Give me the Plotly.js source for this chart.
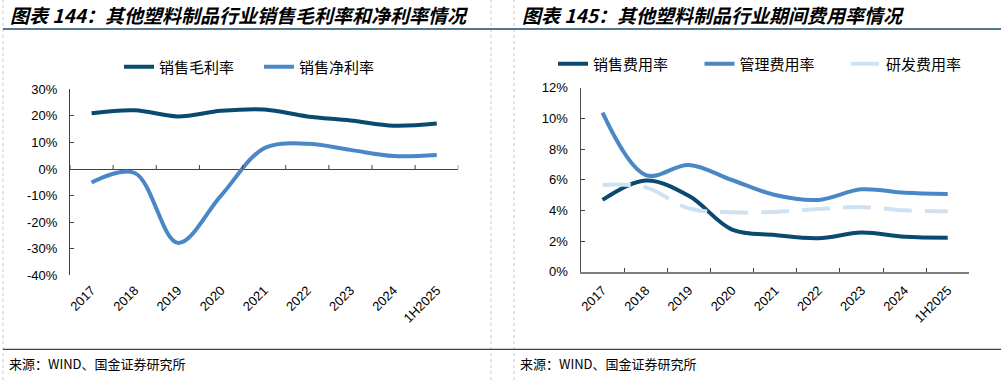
<!DOCTYPE html>
<html>
<head>
<meta charset="utf-8">
<script src="https://cdn.plot.ly/plotly-3.0.1.min.js"></script>
<style>
html,body{margin:0;padding:0;background:#fff;}
#chart{width:1001px;height:380px;}
</style>
</head>
<body>
<div id="chart"></div>
<script>
// ---- data ----
var categories = ['2017','2018','2019','2020','2021','2022','2023','2024','1H2025'];
var grossMargin = [21.0, 22.1, 19.8, 21.9, 22.4, 19.8, 18.3, 16.3, 17.1];      // 销售毛利率 (%)
var netMargin   = [-5.1, -1.5, -27.8, -10.0, 7.8, 9.5, 7.2, 4.9, 5.3];        // 销售净利率 (%)
var sellingExp  = [4.68, 5.95, 4.95, 2.75, 2.39, 2.18, 2.55, 2.28, 2.22];     // 销售费用率 (%)
var adminExp    = [10.37, 6.3, 6.96, 5.98, 5.0, 4.68, 5.37, 5.15, 5.07];     // 管理费用率 (%)
var rdExp       = [5.66, 5.5, 4.13, 3.87, 3.9, 4.09, 4.22, 4.0, 3.94];       // 研发费用率 (%)
var leftTicks  = [-40, -30, -20, -10, 0, 10, 20, 30];
var rightTicks = [0, 2, 4, 6, 8, 10, 12];
var titleLeft  = '图表 144：其他塑料制品行业销售毛利率和净利率情况';
var titleRight = '图表 145：其他塑料制品行业期间费用率情况';
var sourceText = '来源：WIND、国金证券研究所';

// ---- style ----
var W = 1001, H = 380;
var cDark = '#0b4a6f', cMid = '#4a87c6', cLight = '#cfe2f3';
var axisGrey = '#7f7f7f';
var tickFont = {family: '"Liberation Sans", Arial, sans-serif', size: 13, color: '#000'};
var cjk = '"Noto Sans CJK SC", sans-serif';
function px(x){return x / W;}
function py(y){return 1 - y / H;}

var traces = [
  {x: categories, y: grossMargin, name: '销售毛利率', type: 'scatter', mode: 'lines',
   line: {color: cDark, width: 4, shape: 'spline', smoothing: 1}, xaxis: 'x', yaxis: 'y', legend: 'legend'},
  {x: categories, y: netMargin, name: '销售净利率', type: 'scatter', mode: 'lines',
   line: {color: cMid, width: 4, shape: 'spline', smoothing: 1}, xaxis: 'x', yaxis: 'y', legend: 'legend'},
  {x: categories, y: sellingExp, name: '销售费用率', type: 'scatter', mode: 'lines',
   line: {color: cDark, width: 4, shape: 'spline', smoothing: 1}, xaxis: 'x2', yaxis: 'y2', legend: 'legend2'},
  {x: categories, y: adminExp, name: '管理费用率', type: 'scatter', mode: 'lines',
   line: {color: cMid, width: 4, shape: 'spline', smoothing: 1}, xaxis: 'x2', yaxis: 'y2', legend: 'legend2'},
  {x: categories, y: rdExp, name: '研发费用率', type: 'scatter', mode: 'lines',
   line: {color: cLight, width: 4, shape: 'spline', smoothing: 1, dash: '28px,13px'}, xaxis: 'x2', yaxis: 'y2', legend: 'legend2'}
];

var shapes = [];
// left chart: x axis line at 0 with upward ticks at category boundaries
for (var i = 0; i <= categories.length; i++) {
  shapes.push({type: 'line', xref: 'x', yref: 'y', ysizemode: 'pixel', yanchor: 0,
    x0: i - 0.5, x1: i - 0.5, y0: 0, y1: 4, line: {color: '#404040', width: 1}});
}
// frame lines
[3, 491, 514].forEach(function(x){
  shapes.push({type: 'line', xref: 'paper', yref: 'paper', x0: px(x), x1: px(x), y0: 0, y1: 1,
    line: {color: '#c8c8c8', width: 1, dash: '3px,3px'}});
});
[29, 349.3].forEach(function(y){
  shapes.push({type: 'line', xref: 'paper', yref: 'paper', x0: px(3), x1: 1, y0: py(y), y1: py(y),
    line: {color: '#1d4a6b', width: 1.3}});
});

var annotations = [
  {text: titleLeft, xref: 'paper', yref: 'paper', x: px(8), y: py(14), xanchor: 'left', yanchor: 'middle',
   showarrow: false, font: {family: cjk, size: 19, weight: 'bold', style: 'italic', color: '#000'}},
  {text: titleRight, xref: 'paper', yref: 'paper', x: px(520), y: py(14), xanchor: 'left', yanchor: 'middle',
   showarrow: false, font: {family: cjk, size: 19, weight: 'bold', style: 'italic', color: '#000'}},
  {text: sourceText, xref: 'paper', yref: 'paper', x: px(7), y: py(363), xanchor: 'left', yanchor: 'middle',
   showarrow: false, font: {family: cjk, size: 13, color: '#000'}},
  {text: sourceText, xref: 'paper', yref: 'paper', x: px(518), y: py(363), xanchor: 'left', yanchor: 'middle',
   showarrow: false, font: {family: cjk, size: 13, color: '#000'}}
];

var layout = {
  width: W, height: H,
  margin: {l: 0, r: 0, t: 0, b: 0},
  paper_bgcolor: '#fff', plot_bgcolor: 'rgba(0,0,0,0)',
  showlegend: true,
  xaxis: {domain: [px(70), px(458.3)], anchor: 'y', type: 'category', range: [-0.5, 8.5],
    showline: false, ticks: '', showgrid: false, zeroline: false, tickangle: -45,
    tickfont: tickFont, ticklabelstandoff: 4, fixedrange: true},
  yaxis: {domain: [py(275.3), py(89.3)], anchor: 'x', range: [-40, 30], tickvals: leftTicks,
    ticktext: leftTicks.map(function(v){return v + '%';}),
    showline: true, linecolor: '#404040', linewidth: 1, ticks: 'inside', ticklen: 4, tickcolor: '#404040',
    showgrid: false, zeroline: true, zerolinecolor: '#404040', zerolinewidth: 1,
    tickfont: tickFont, ticklabelstandoff: 9, fixedrange: true},
  xaxis2: {domain: [px(581), px(969.3)], anchor: 'y2', type: 'category', range: [-0.5, 8.5],
    showline: true, linecolor: axisGrey, linewidth: 2, ticks: 'inside', tickson: 'boundaries',
    ticklen: 4, tickcolor: '#404040', showgrid: false, zeroline: false, tickangle: -45,
    tickfont: tickFont, ticklabelstandoff: 4, fixedrange: true},
  yaxis2: {domain: [py(271.7), py(87.7)], anchor: 'x2', range: [0, 12], tickvals: rightTicks,
    ticktext: rightTicks.map(function(v){return v + '%';}),
    showline: true, linecolor: '#505050', linewidth: 1.5, ticks: 'inside', ticklen: 4, tickcolor: '#404040',
    showgrid: false, zeroline: false, tickfont: tickFont, ticklabelstandoff: 9, fixedrange: true},
  legend: {orientation: 'h', x: px(119), y: py(67), xanchor: 'left', yanchor: 'middle',
    xref: 'paper', yref: 'paper', bgcolor: 'rgba(0,0,0,0)', borderwidth: 0,
    entrywidth: 95, entrywidthmode: 'pixels',
    font: {family: cjk, size: 15, color: '#000'}},
  legend2: {orientation: 'h', x: px(553), y: py(64), xanchor: 'left', yanchor: 'middle',
    xref: 'paper', yref: 'paper', bgcolor: 'rgba(0,0,0,0)', borderwidth: 0,
    entrywidth: 101.5, entrywidthmode: 'pixels',
    font: {family: cjk, size: 15, color: '#000'}},
  shapes: shapes,
  annotations: annotations
};

Plotly.newPlot('chart', traces, layout, {staticPlot: true, displayModeBar: false});
</script>
</body>
</html>
